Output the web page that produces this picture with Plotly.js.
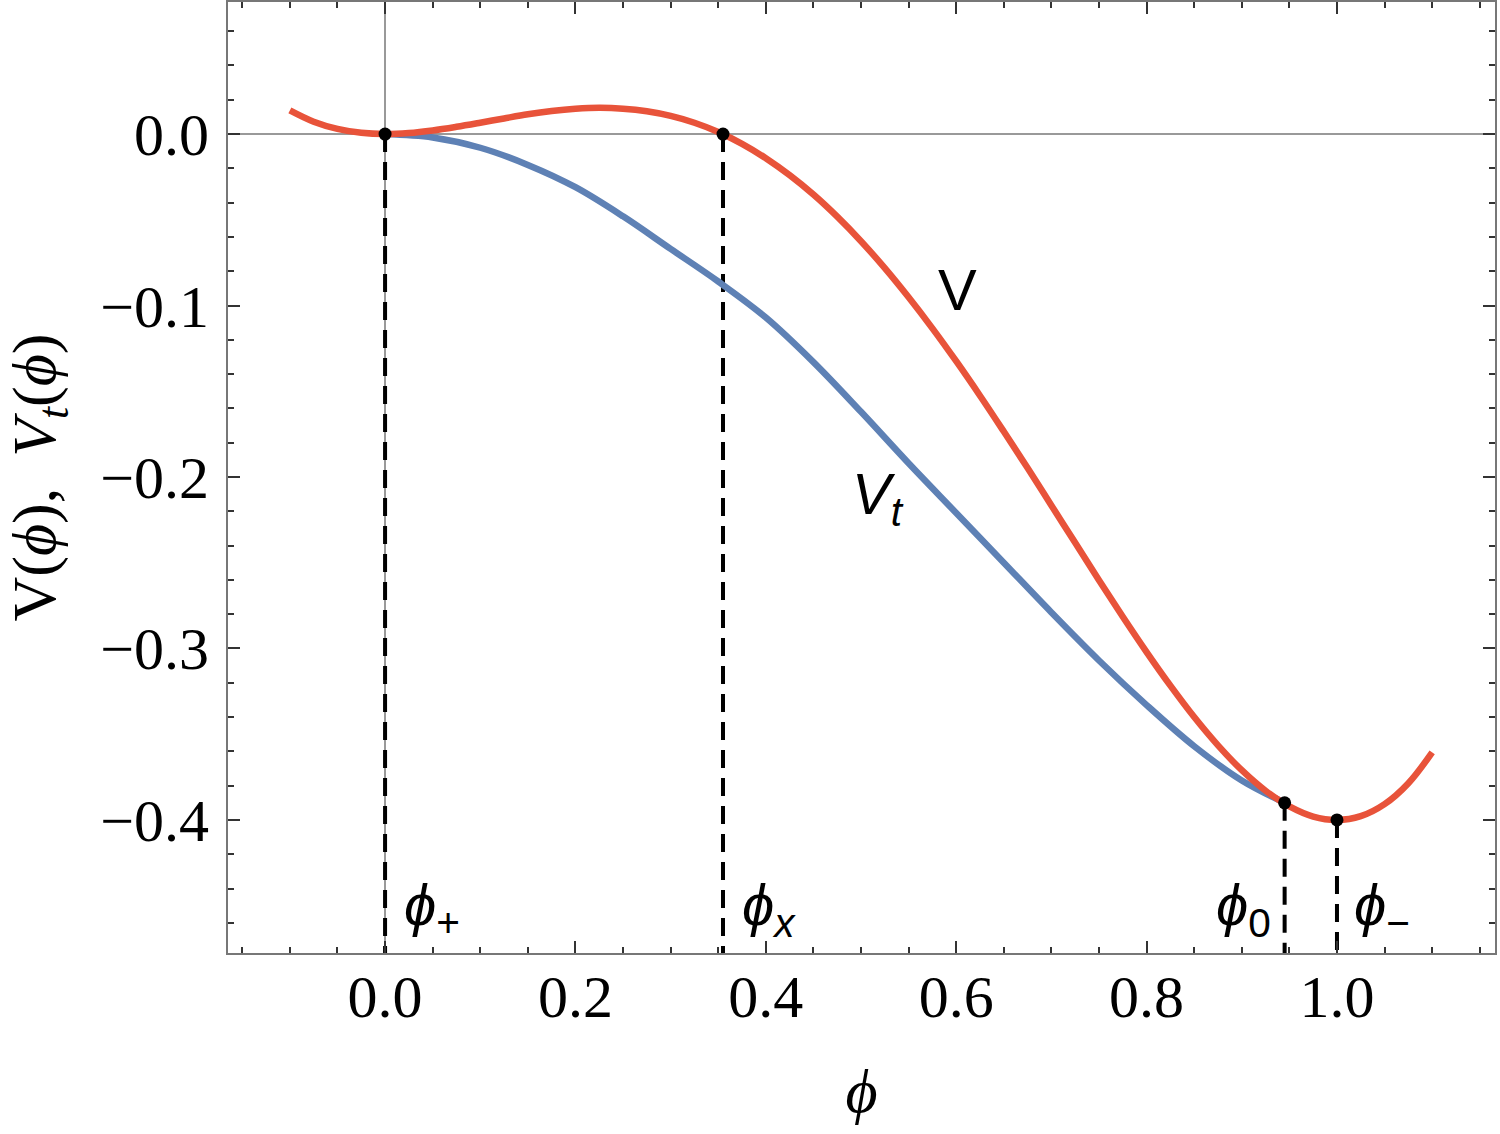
<!DOCTYPE html>
<html>
<head>
<meta charset="utf-8">
<script src="https://cdn.plot.ly/plotly-3.0.1.min.js"></script>
<style>html,body{margin:0;padding:0;background:#fff;}</style>
</head>
<body>
<div id="chart" style="width:1500px;height:1134px;"></div>
<script>
// Potential V(phi) (red)
const phiV = [-0.1, -0.075, -0.05, -0.025, 0, 0.025, 0.05, 0.075, 0.1, 0.125, 0.15, 0.175, 0.2, 0.225, 0.25, 0.275, 0.3, 0.325, 0.35, 0.375,
              0.4, 0.425, 0.45, 0.475, 0.5, 0.525, 0.55, 0.575, 0.6, 0.625, 0.65, 0.675, 0.7, 0.725, 0.75, 0.775, 0.8, 0.825,
              0.85, 0.875, 0.9, 0.925, 0.95, 0.975, 1.0, 1.025, 1.05, 1.075, 1.1];
const V    = [0.0138, 0.0072, 0.0030, 0.0007, 0, 0.0006, 0.0021, 0.0042, 0.0066, 0.0091, 0.0115, 0.0134, 0.0147, 0.0153, 0.0148, 0.0133, 0.0106, 0.0066, 0.0012, -0.0057,
              -0.0141, -0.0240, -0.0353, -0.0482, -0.0625, -0.0782, -0.0952, -0.1133, -0.1325, -0.1526, -0.1735, -0.1948, -0.2166, -0.2384, -0.2602, -0.2815, -0.3021, -0.3217,
              -0.3400, -0.3565, -0.3710, -0.3830, -0.3921, -0.3980, -0.4000, -0.3978, -0.3908, -0.3786, -0.3606];
// Tunneling potential Vt(phi) (blue)
const phiVt = [0, 0.05, 0.1, 0.15, 0.2, 0.25, 0.3, 0.35, 0.4, 0.45, 0.5, 0.55, 0.6, 0.65, 0.7, 0.75, 0.8, 0.85, 0.9, 0.945];
const Vt    = [0, -0.002, -0.008, -0.018, -0.031, -0.048, -0.067, -0.086, -0.107, -0.133, -0.162, -0.192, -0.221, -0.250, -0.279, -0.307, -0.333, -0.357, -0.377, -0.390];
// Special points
const critPhi = [0, 0.355, 0.945, 1.0];
const critV   = [0, 0, -0.390, -0.400];
const critLabels = ['<i>ϕ</i><sub>+</sub>', '<i>ϕ</i><sub><i>x</i></sub>', '<i>ϕ</i><sub>0</sub>', '<i>ϕ</i><sub>−</sub>'];
// Axis ticks
const xTicks = [0, 0.2, 0.4, 0.6, 0.8, 1.0];
const xTickText = ['0.0', '0.2', '0.4', '0.6', '0.8', '1.0'];
const yTicks = [-0.4, -0.3, -0.2, -0.1, 0];
const yTickText = ['−0.4', '−0.3', '−0.2', '−0.1', '0.0'];

const xRange = [-0.165, 1.166];
const yRange = [-0.4776, 0.077];

const RED = '#E8533A';
const BLUE = '#5E81B5';
const SANS = 'Liberation Sans, DejaVu Sans, Arial, sans-serif';
const SERIF = 'Liberation Serif, DejaVu Serif, Times New Roman, serif';

// dashed drop lines built from the special points
const dropX = [], dropY = [];
critPhi.forEach((p, i) => { dropX.push(p, p, null); dropY.push(critV[i], yRange[0], null); });

const traces = [
  {x: dropX, y: dropY, mode: 'lines', line: {color: '#000', width: 4, dash: '18px,10px'}, hoverinfo: 'skip'},
  {x: phiVt, y: Vt, mode: 'lines', line: {color: BLUE, width: 6.5, shape: 'spline', smoothing: 1}},
  {x: phiV, y: V, mode: 'lines', line: {color: RED, width: 6.5, shape: 'spline', smoothing: 1}},
  {x: critPhi, y: critV, mode: 'markers', marker: {color: '#000', size: 13}}
];

const labelFont = {family: SANS, size: 58, color: '#000'};
const labelAnchor = ['left', 'left', 'right', 'left'];
const labelShift = [0.018, 0.018, -0.012, 0.016];
const annotations = critPhi.map((p, i) => ({
  x: p + labelShift[i], y: -0.452, xref: 'x', yref: 'y', text: critLabels[i],
  showarrow: false, xanchor: labelAnchor[i], yanchor: 'middle', font: labelFont
}));
annotations.push({x: 0.601, y: -0.0904, xref: 'x', yref: 'y', text: 'V', showarrow: false,
  xanchor: 'center', yanchor: 'middle', font: {family: SANS, size: 58, color: '#000'}});
annotations.push({x: 0.518, y: -0.212, xref: 'x', yref: 'y', text: '<i>V</i><sub><i>t</i></sub>', showarrow: false,
  xanchor: 'center', yanchor: 'middle', font: {family: SANS, size: 58, color: '#000'}});

const axisCommon = {
  showline: true, mirror: 'ticks', linecolor: '#777', linewidth: 2,
  ticks: 'inside', ticklen: 12, tickwidth: 2, tickcolor: '#333',
  showgrid: false, zeroline: true, zerolinecolor: '#999', zerolinewidth: 1.2,
  tickfont: {family: SERIF, size: 60, color: '#000'}
};

const layout = {
  width: 1500, height: 1134,
  margin: {l: 228, r: 5, t: 2, b: 181},
  paper_bgcolor: '#fff', plot_bgcolor: '#fff',
  showlegend: false,
  xaxis: Object.assign({}, axisCommon, {
    range: xRange, tickvals: xTicks, ticktext: xTickText,
    minor: {dtick: 0.05, tick0: 0, ticks: 'inside', ticklen: 6, tickwidth: 2, tickcolor: '#333', showgrid: false},
    ticklabelstandoff: -10,
    title: {text: '<i>ϕ</i>', font: {family: SERIF, size: 62, color: '#000'}, standoff: 40}
  }),
  yaxis: Object.assign({}, axisCommon, {
    range: yRange, tickvals: yTicks, ticktext: yTickText,
    minor: {dtick: 0.02, tick0: 0, ticks: 'inside', ticklen: 6, tickwidth: 2, tickcolor: '#333', showgrid: false},
    ticklabelstandoff: 5,
    title: {text: 'V(<i>ϕ</i>),  <i>V</i><sub><i>t</i></sub>(<i>ϕ</i>)', font: {family: SERIF, size: 62, color: '#000'}, standoff: 28}
  }),
  annotations: annotations
};

Plotly.newPlot('chart', traces, layout, {displayModeBar: false, staticPlot: true});
</script>
</body>
</html>
